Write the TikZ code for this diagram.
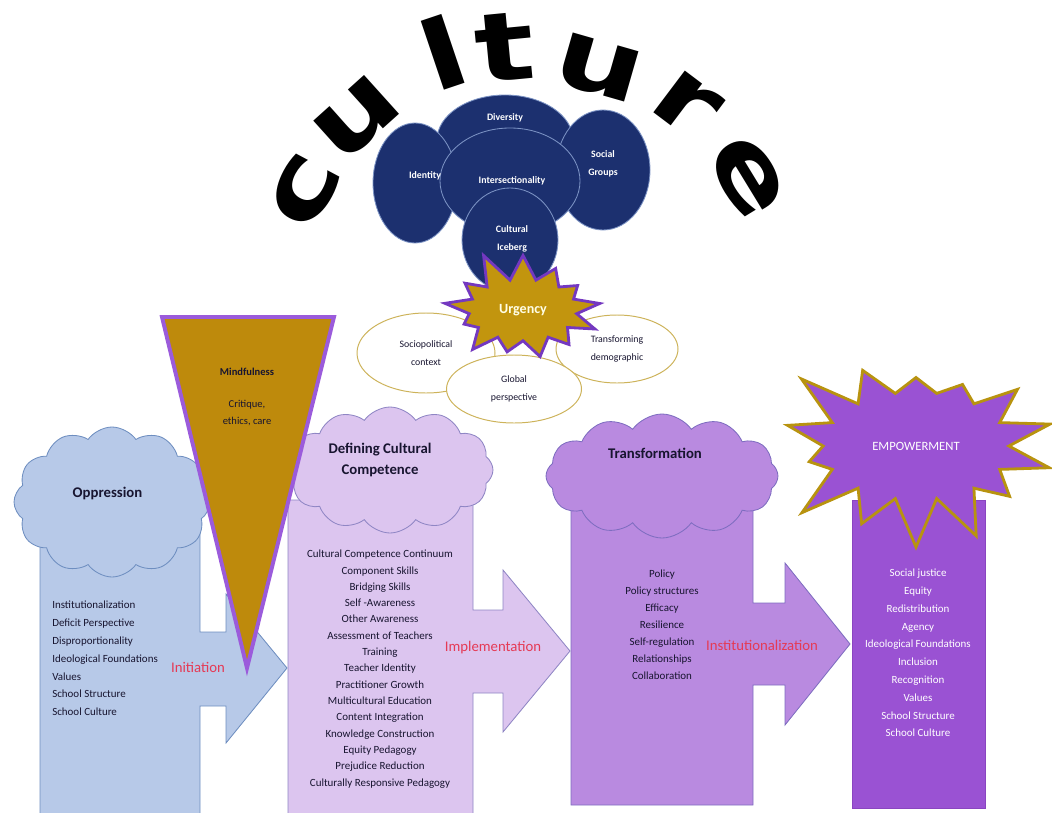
\documentclass[tikz,border=0pt]{standalone}
\usepackage{fontspec}
\setmainfont{Carlito}
\newfontfamily\culturefont{DejaVu Sans}
\usetikzlibrary{shapes,positioning,calc}

\definecolor{navy}{HTML}{1C306F}
\definecolor{navyline}{HTML}{7C93C4}
\definecolor{creamline}{HTML}{CDB35A}
\definecolor{urggold}{HTML}{C2950E}
\definecolor{urgpurple}{HTML}{7438C0}
\definecolor{mindgold}{HTML}{BE8A0C}
\definecolor{mindpurple}{HTML}{9B5BDB}
\definecolor{blueone}{HTML}{B7C9E8}
\definecolor{blueline}{HTML}{6E8EC0}
\definecolor{lilac}{HTML}{DCC5EF}
\definecolor{lilacline}{HTML}{8F86C4}
\definecolor{mauve}{HTML}{B98AE0}
\definecolor{mauveline}{HTML}{7E6DC0}
\definecolor{violet}{HTML}{9A52D3}
\definecolor{violetline}{HTML}{8A45C0}
\definecolor{empgold}{HTML}{B8930F}
\definecolor{stagered}{HTML}{E53A55}
\definecolor{inkdark}{HTML}{181530}

\begin{document}
\begin{tikzpicture}[scale=0.25,
    every node/.style={inner sep=0pt},
    cultureltr/.style={font=\culturefont\bfseries\fontsize{68}{68}\selectfont, text=black},
    navyball/.style={ellipse, fill=navy, draw=navyline, line width=0.6pt},
    navytxt/.style={text=white, align=center, font=\fontsize{7}{13}\selectfont\bfseries},
    creamball/.style={ellipse, fill=white, draw=creamline, line width=0.7pt, align=center,
        text=inkdark, font=\fontsize{7}{12.6}\selectfont},
    puff/.style={cloud, cloud puffs=12, cloud puff arc=110, cloud ignores aspect, line width=0.6pt},
    headtxt/.style={text=inkdark, align=center, font=\fontsize{10.5}{15}\selectfont\bfseries},
    stagetxt/.style={text=stagered, font=\fontsize{10.5}{12}\selectfont},
    listtxt/.style={text=inkdark, align=center}
  ]
  \useasboundingbox (0,0) rectangle (105.2,-81.3);

  % culture arc
  \coordinate (arcc) at (53.0,-31.0);
  \foreach \ch/\ang/\rad [count=\i] in {c/152/25.5, u/132/25.8, l/108.6/27.2, t/95.5/26.4, u/74/25.2, r/53/25.9, e/31.4/25.5}
    \node[cultureltr, rotate=\ang-90] (ltr\i) at ($(arcc)+(\ang:\rad)$) {\scalebox{1.3}[1]{\ch}};

  % culture circles
  \node[navyball, minimum width=3.4cm, minimum height=2.25cm] (div) at (50.5,-14.0) {};
  \node[navyball, minimum width=2.1cm, minimum height=3.0cm] (ident) at (41.5,-18.3) {};
  \node[navyball, minimum width=2.35cm, minimum height=3.0cm] (soc) at (60.3,-17.0) {};
  \node[navyball, minimum width=3.5cm, minimum height=2.65cm] (inter) at (51.0,-18.1) {};
  \node[navyball, minimum width=2.4cm, minimum height=2.6cm] (ice) at (51.0,-24.0) {};
  \node[navytxt] (divt) at (50.5,-11.8) {Diversity};
  \node[navytxt] (identt) at (42.5,-17.6) {Identity};
  \node[navytxt] (soct) at (60.3,-16.4) {Social\\Groups};
  \node[navytxt] (intert) at (51.2,-18.1) {Intersectionality};
  \node[navytxt] (icet) at (51.2,-23.9) {Cultural\\Iceberg};

  % urgency
  \node[creamball, minimum width=3.45cm, minimum height=2.0cm] (socio) at (42.6,-35.3) {Sociopolitical\\context};
  \node[creamball, minimum width=3.05cm, minimum height=1.7cm] (demo) at (61.7,-34.9) {Transforming\\demographic};
  \node[creamball, minimum width=3.375cm, minimum height=1.7cm] (glob) at (51.4,-38.9) {Global\\perspective};
  \node[starburst, starburst points=13, starburst point height=0.8cm, random starburst=11,
        inner xsep=0.36cm, inner ysep=0.4cm,
        fill=urggold, draw=urgpurple, line width=2pt,
        text=white!90!yellow, font=\fontsize{10}{12}\selectfont\bfseries] (urg) at (52.3,-31.0) {Urgency};

  % oppression
  \draw[fill=blueone, draw=blueline, line width=0.6pt, line join=miter]
    (4.0,-50.0) -- (20.0,-50.0) -- (20.0,-63.2) -- (22.6,-63.2) -- (22.6,-59.4) -- (28.7,-66.8)
    -- (22.6,-74.3) -- (22.6,-70.6) -- (20.0,-70.6) -- (20.0,-81.6) -- (4.0,-81.6) -- cycle;
  \node[puff, fill=blueone, draw=blueline, minimum width=4.9cm, minimum height=3.75cm] (opp) at (11.2,-50.2) {};
  \node[headtxt] (oppt) at (10.75,-49.3) {Oppression};
  \node[listtxt, align=left, anchor=west, font=\fontsize{7.8}{12.65}\selectfont] (oppl) at (5.2,-65.85)
    {Institutionalization\\Deficit Perspective\\Disproportionality\\Ideological Foundations\\Values\\School Structure\\School Culture};
  \node[stagetxt] (init) at (19.8,-66.7) {Initiation};

  % defining cultural competence
  \draw[fill=lilac, draw=lilacline, line width=0.6pt, line join=miter]
    (28.8,-50.0) -- (47.3,-50.0) -- (47.3,-61.0) -- (50.3,-61.0) -- (50.3,-57.0) -- (57.0,-65.1)
    -- (50.3,-73.2) -- (50.3,-69.3) -- (47.3,-69.3) -- (47.3,-81.6) -- (28.8,-81.6) -- cycle;
  \node[puff, fill=lilac, draw=lilacline, minimum width=5.15cm, minimum height=3.15cm] (dcc) at (39.0,-47.0) {};
  \node[headtxt] (dcct) at (38.0,-46.0) {Defining Cultural\\Competence};
  \node[listtxt, font=\fontsize{7.8}{11.6}\selectfont] (dccl) at (38.0,-66.9)
    {Cultural Competence Continuum\\Component Skills\\Bridging Skills\\Self -Awareness\\Other Awareness\\
     Assessment of Teachers\\Training\\Teacher Identity\\Practitioner Growth\\Multicultural Education\\
     Content Integration\\Knowledge Construction\\Equity Pedagogy\\Prejudice Reduction\\Culturally Responsive Pedagogy};
  \node[stagetxt] (impl) at (49.3,-64.8) {Implementation};

  % mindfulness
  \draw[fill=mindgold, draw=mindpurple, line width=2.8pt, line join=miter]
    (16.2,-31.7) -- (33.4,-31.7) -- (24.7,-66.8) -- cycle;
  \node[text=inkdark, font=\fontsize{7.5}{9}\selectfont\bfseries] (mind) at (24.7,-37.2) {Mindfulness};
  \node[text=inkdark, align=center, font=\fontsize{7.5}{12.7}\selectfont] (crit) at (24.7,-41.3) {Critique,\\ethics, care};

  % transformation
  \draw[fill=mauve, draw=mauveline, line width=0.6pt, line join=miter]
    (57.1,-50.0) -- (75.3,-50.0) -- (75.3,-60.3) -- (78.5,-60.3) -- (78.5,-56.3) -- (85.0,-64.4)
    -- (78.5,-72.5) -- (78.5,-68.5) -- (75.3,-68.5) -- (75.3,-80.5) -- (57.1,-80.5) -- cycle;
  \node[puff, fill=mauve, draw=mauveline, minimum width=5.8cm, minimum height=3.1cm] (trans) at (66.2,-47.6) {};
  \node[headtxt] (transt) at (65.5,-45.3) {Transformation};
  \node[listtxt, font=\fontsize{7.8}{12.1}\selectfont] (transl) at (66.2,-62.5)
    {Policy\\Policy structures\\Efficacy\\Resilience\\Self-regulation\\Relationships\\Collaboration};
  \node[stagetxt] (inst) at (76.2,-64.5) {Institutionalization};

  % empowerment
  \draw[fill=violet, draw=violetline, line width=0.6pt] (85.2,-50.0) rectangle (98.5,-80.8);
  \node[starburst, starburst points=14, starburst point height=1.4cm, random starburst=23,
        inner xsep=0.55cm, inner ysep=0.85cm,
        fill=violet, draw=empgold, line width=2pt,
        text=white, font=\fontsize{9}{11}\selectfont] (emp) at (91.6,-44.6) {EMPOWERMENT};
  \node[listtxt, text=white, font=\fontsize{7.8}{12.65}\selectfont] (empl) at (91.8,-65.3)
    {Social justice\\Equity\\Redistribution\\Agency\\Ideological Foundations\\Inclusion\\Recognition\\
     Values\\School Structure\\School Culture};
\end{tikzpicture}
\end{document}
